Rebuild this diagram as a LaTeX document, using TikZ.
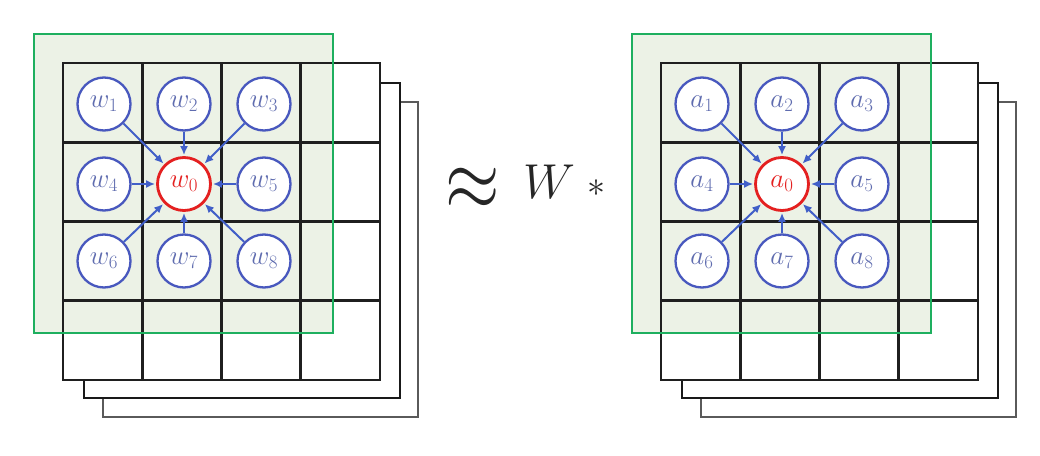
\RequirePackage{fix-cm}
\documentclass[tikz,border=0pt]{standalone}
\usetikzlibrary{arrows.meta}
\definecolor{cblue}{RGB}{72,88,190}
\definecolor{ablue}{RGB}{65,95,200}
\definecolor{lblue}{RGB}{95,108,175}
\definecolor{cred}{RGB}{228,32,32}
\definecolor{gborder}{RGB}{30,175,95}
\definecolor{gfill}{RGB}{236,242,230}
\definecolor{sheetgray}{RGB}{90,90,90}
\tikzset{
  backsheet/.style={fill=white, draw=sheetgray, line width=2pt},
  midsheet/.style={fill=white, draw=black!90, line width=2.2pt},
  gridline/.style={draw=black!88, line width=2.8pt, line cap=rect},
  windowfill/.style={fill=gfill},
  windowline/.style={draw=gborder, line width=2.4pt},
  cell/.style={circle, draw=cblue, line width=2.3pt, fill=white, minimum size=53pt,
    inner sep=0pt, text=lblue, font=\fontsize{27}{30}\selectfont},
  centre/.style={cell, draw=cred, line width=2.8pt, text=cred},
  arr/.style={draw=ablue, line width=2pt, -{Latex[length=9pt,width=8pt]}, shorten >=1pt},
  bigsym/.style={inner sep=0pt, text=black!85},
}
\newcommand\drawpanel[3]{%
\begin{scope}[xshift=#3pt]
  \path[backsheet] (103,102) rectangle (418,417);
  \path[midsheet] (84,83) rectangle (400,398);
  \fill[white] (63,63) rectangle (380,380);
  \path[windowfill] (34,34) rectangle (333,333);
  \foreach \k in {0,1,2,3,4} {
    \draw[gridline] ({63+79.25*\k},63) -- ({63+79.25*\k},380);
    \draw[gridline] (63,{63+79.25*\k}) -- (380,{63+79.25*\k});
  }
  \path[windowline] (34,34) rectangle (333,333);
  \node[centre] (#10) at (184,184) {$#2_{0}$};
  \foreach \i/\cx/\cy in {1/104/104, 2/184/104, 3/264/104, 4/104/184, 5/264/184, 6/104/261, 7/184/261, 8/264/261} {
    \node[cell] (#1\i) at (\cx,\cy) {$#2_{\i}$};
  }
  \foreach \i in {1,...,8} {
    \draw[arr] (#1\i) -- (#10);
  }
\end{scope}}
\begin{document}
\begin{tikzpicture}[x=1pt,y=-1pt]
\useasboundingbox (0,0) rectangle (1040,455);
\drawpanel{L}{w}{0}
\drawpanel{R}{a}{598}
\node[bigsym, font=\fontsize{70}{80}\selectfont, yscale=1.25] (approx) at (473,189) {$\approx$};
\node[bigsym, font=\fontsize{49}{56}\selectfont] (wvar) at (549,182) {$W$};
\node[bigsym, font=\fontsize{36}{40}\selectfont] (star) at (596,188) {$*$};
\end{tikzpicture}
\end{document}
